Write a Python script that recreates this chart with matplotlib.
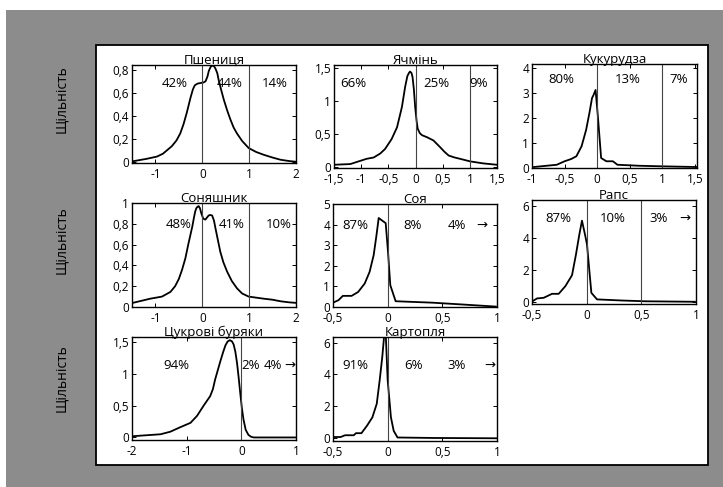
"""Density plots of yield deviations for eight crops (Ukrainian labels)."""
import matplotlib
matplotlib.use('Agg')
import matplotlib.pyplot as plt
from matplotlib.patches import Rectangle

plt.rcParams['font.family'] = ['Open Sans', 'DejaVu Sans']

# --- data ---
wheat_x = [-1.48, -1.2, -0.97, -0.84, -0.65, -0.55, -0.47, -0.40, -0.33, -0.25, -0.20, -0.16,
           -0.10, -0.03, 0.03, 0.07, 0.11, 0.14, 0.18, 0.21, 0.25, 0.28, 0.32, 0.35, 0.40,
           0.46, 0.53, 0.60, 0.67, 0.74, 0.85, 0.99, 1.15, 1.31, 1.5, 1.67, 1.85, 1.99]
wheat_y = [0.01, 0.03, 0.05, 0.075, 0.14, 0.19, 0.25, 0.33, 0.43, 0.56, 0.63, 0.665,
           0.68, 0.685, 0.69, 0.70, 0.74, 0.79, 0.825, 0.835, 0.83, 0.81, 0.77, 0.71, 0.63,
           0.54, 0.45, 0.37, 0.30, 0.25, 0.185, 0.124, 0.09, 0.066, 0.042, 0.023, 0.012, 0.006]

barley_x = [-1.48, -1.2, -0.9, -0.77, -0.65, -0.56, -0.44, -0.34, -0.25, -0.19, -0.15, -0.12,
            -0.10, -0.075, -0.055, -0.03, -0.006, 0.02, 0.04, 0.08, 0.12, 0.21, 0.33, 0.45,
            0.53, 0.61, 0.72, 0.82, 1.01, 1.25, 1.49]
barley_y = [0.03, 0.04, 0.12, 0.14, 0.20, 0.27, 0.42, 0.60, 0.91, 1.22, 1.38, 1.43,
            1.45, 1.43, 1.37, 1.18, 0.91, 0.70, 0.58, 0.51, 0.48, 0.45, 0.40, 0.30,
            0.23, 0.17, 0.14, 0.12, 0.08, 0.05, 0.03]

corn_x = [-0.97, -0.62, -0.5, -0.40, -0.32, -0.24, -0.17, -0.12, -0.08, -0.056, -0.025, 0.01,
          0.06, 0.14, 0.24, 0.31, 0.64, 1.0, 1.52]
corn_y = [0.04, 0.13, 0.27, 0.36, 0.47, 0.87, 1.53, 2.2, 2.8, 2.93, 3.13, 2.07,
          0.4, 0.27, 0.27, 0.13, 0.09, 0.067, 0.04]

sunflower_x = [-1.48, -1.11, -0.86, -0.68, -0.58, -0.50, -0.43, -0.36, -0.30, -0.255, -0.21,
               -0.18, -0.15, -0.127, -0.10, -0.077, -0.05, -0.02, 0.02, 0.065, 0.10, 0.136,
               0.17, 0.21, 0.25, 0.28, 0.33, 0.385, 0.45, 0.53, 0.63, 0.74, 0.85, 0.99,
               1.15, 1.31, 1.5, 1.67, 1.85, 1.99]
sunflower_y = [0.04, 0.08, 0.10, 0.145, 0.20, 0.27, 0.36, 0.47, 0.60, 0.69, 0.78,
               0.855, 0.92, 0.95, 0.965, 0.97, 0.95, 0.90, 0.85, 0.84, 0.86, 0.88,
               0.885, 0.88, 0.83, 0.76, 0.65, 0.53, 0.43, 0.34, 0.25, 0.18, 0.13, 0.10,
               0.09, 0.08, 0.07, 0.055, 0.045, 0.04]

soy_x = [-0.5, -0.45, -0.41, -0.33, -0.27, -0.21, -0.165, -0.128, -0.104, -0.082, -0.049,
         -0.018, 0.003, 0.024, 0.073, 0.41, 0.72, 0.99]
soy_y = [0.21, 0.33, 0.54, 0.54, 0.73, 1.14, 1.71, 2.52, 3.42, 4.32, 4.19,
         4.07, 2.69, 1.06, 0.28, 0.21, 0.11, 0.02]

rapeseed_x = [-0.494, -0.454, -0.393, -0.317, -0.256, -0.195, -0.134, -0.098, -0.067, -0.043,
              -0.012, 0.003, 0.043, 0.095, 0.32, 0.54, 0.99]
rapeseed_y = [0.04, 0.21, 0.25, 0.50, 0.50, 0.98, 1.67, 2.97, 4.23, 5.1,
              4.12, 3.6, 0.56, 0.15, 0.08, 0.03, 0.0]

sugarbeet_x = [-1.98, -1.48, -1.30, -1.12, -0.93, -0.81, -0.69, -0.57, -0.52, -0.48, -0.43,
               -0.38, -0.33, -0.29, -0.25, -0.21, -0.17, -0.14, -0.11, -0.08, -0.05, -0.02,
               0.01, 0.04, 0.08, 0.13, 0.18, 0.23, 0.5, 1.0]
sugarbeet_y = [0.02, 0.05, 0.09, 0.16, 0.23, 0.34, 0.50, 0.65, 0.76, 0.91, 1.06,
               1.21, 1.35, 1.45, 1.51, 1.53, 1.51, 1.46, 1.35, 1.18, 0.95, 0.70,
               0.46, 0.28, 0.12, 0.04, 0.01, 0.0, 0.0, 0.0]

potato_x = [-0.49, -0.43, -0.39, -0.31, -0.29, -0.24, -0.19, -0.14, -0.10, -0.073, -0.049,
            -0.03, -0.018, 0.0, 0.03, 0.055, 0.09, 0.42, 1.0]
potato_y = [0.08, 0.08, 0.19, 0.19, 0.32, 0.32, 0.78, 1.31, 2.16, 3.64, 5.12,
            6.6, 6.6, 3.64, 1.31, 0.47, 0.05, 0.02, 0.0]

titles = ['Пшениця', 'Ячмінь', 'Кукурудза', 'Соняшник', 'Соя', 'Рапс',
          'Цукрові буряки', 'Картопля']
curves_x = [wheat_x, barley_x, corn_x, sunflower_x, soy_x, rapeseed_x, sugarbeet_x, potato_x]
curves_y = [wheat_y, barley_y, corn_y, sunflower_y, soy_y, rapeseed_y, sugarbeet_y, potato_y]

# vertical separators
split_lines = [[0, 1], [0, 1], [0, 1], [0, 1], [0], [0, 0.5], [0], [0]]

# percent labels
shares = [['42%', '44%', '14%'], ['66%', '25%', '9%'], ['80%', '13%', '7%'],
          ['48%', '41%', '10%'], ['87%', '8%', '4%', '→'], ['87%', '10%', '3%', '→'],
          ['94%', '2%', '4%', '→'], ['91%', '6%', '3%', '→']]

x_ticks = [[-1, 0, 1, 2], [-1.5, -1, -0.5, 0, 0.5, 1, 1.5], [-1, -0.5, 0, 0.5, 1, 1.5],
           [-1, 0, 1, 2], [-0.5, 0, 0.5, 1], [-0.5, 0, 0.5, 1], [-2, -1, 0, 1],
           [-0.5, 0, 0.5, 1]]
y_ticks = [[0, 0.2, 0.4, 0.6, 0.8], [0, 0.5, 1, 1.5], [0, 1, 2, 3, 4],
           [0, 0.2, 0.4, 0.6, 0.8, 1], [0, 1, 2, 3, 4, 5], [0, 2, 4, 6],
           [0, 0.5, 1, 1.5], [0, 2, 4, 6]]

# --- layout (pixels: left, top, right, bottom) ---
W, H = 723, 487
boxes = [(132, 65, 296, 163), (334, 65, 497, 168), (532, 64, 697, 168),
         (132, 203, 296, 307), (333, 204, 497, 307), (532, 200, 696, 304),
         (132, 337, 296, 440), (333, 337, 497, 441)]
xlims = [(-1.5, 2), (-1.5, 1.5), (-1.0, 1.53), (-1.5, 2), (-0.5, 1), (-0.5, 1),
         (-2, 1), (-0.5, 1)]
ylims = [(-0.005, 0.84), (-0.02, 1.55), (0, 4.17), (0, 1), (0, 5), (-0.14, 6.4),
         (-0.04, 1.58), (-0.17, 6.35)]
label_pos = [([0.262, 0.598, 0.872], 0.816), ([0.119, 0.627, 0.887], 0.82),
             ([0.18, 0.58, 0.89], 0.853), ([0.282, 0.608, 0.892], 0.795),
             ([0.134, 0.486, 0.754, 0.906], 0.796), ([0.16, 0.495, 0.77, 0.933], 0.824),
             ([0.268, 0.72, 0.862, 0.963], 0.728), ([0.134, 0.49, 0.754, 0.957], 0.73)]


def fmt(v):
    return ('%g' % v).replace('.', ',')


fig = plt.figure(figsize=(W / 100, H / 100), dpi=100)
fig.patch.set_facecolor('white')
fig.patches.append(Rectangle((6 / W, 0), 1 - 6 / W, (H - 10) / H, transform=fig.transFigure,
                             facecolor='#8c8c8c', edgecolor='none', zorder=-10))
fig.patches.append(Rectangle((96 / W, (H - 465) / H), 612 / W, 420 / H,
                             transform=fig.transFigure, facecolor='white',
                             edgecolor='black', lw=1.3, zorder=-5))

for i in range(8):
    l, t, r, b = boxes[i]
    ax = fig.add_axes([l / W, (H - b) / H, (r - l) / W, (b - t) / H])
    ax.plot(curves_x[i], curves_y[i], color='black', lw=1.3, solid_joinstyle='round')
    for v in split_lines[i]:
        ax.axvline(v, color='#444444', lw=0.8)
    ax.set_xlim(*xlims[i])
    ax.set_ylim(*ylims[i])
    ax.set_xticks(x_ticks[i])
    ax.set_xticklabels([fmt(v) for v in x_ticks[i]])
    ax.set_yticks(y_ticks[i])
    ax.set_yticklabels([fmt(v) for v in y_ticks[i]])
    ax.tick_params(direction='in', top=True, right=True, length=3, width=0.7,
                   labelsize=8.5)
    ax.tick_params(axis='x', pad=3.5)
    ax.tick_params(axis='y', pad=2)
    for s in ax.spines.values():
        s.set_linewidth(1.0)
    ax.set_title(titles[i], fontsize=9.5, pad=1)
    xs, yy = label_pos[i]
    for txt, xx in zip(shares[i], xs):
        ax.text(xx, yy, txt, transform=ax.transAxes, ha='center', va='center', fontsize=9.5)

for yc in [99, 240, 378]:
    fig.text(62 / W, (H - yc) / H, 'Щільність', rotation=90, ha='center', va='center',
             fontsize=10)

plt.savefig('out.png', dpi=100)
